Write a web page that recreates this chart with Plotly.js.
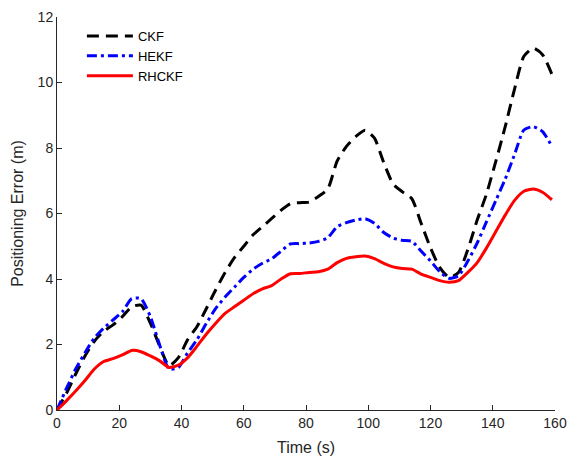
<!DOCTYPE html>
<html>
<head>
<meta charset="utf-8">
<script src="https://cdn.plot.ly/plotly-3.0.1.min.js"></script>
<style>html,body{margin:0;padding:0;background:#fff;}#chart{width:569px;height:456px;}</style>
</head>
<body>
<div id="chart"></div>
<script>
const time = [0,3,6,9,12,15,18,21,24,27,30,33,36,39,42,45,48,51,54,57,60,63,66,69,72,75,78,81,84,87,90,93,96,99,102,105,108,111,114,117,120,123,126,129,132,135,138,141,144,147,150,153,156,159];
const ckf = [0,0.5,1.1,1.65,2.1,2.4,2.6,2.85,3.15,3.2,2.65,1.95,1.35,1.6,2.15,2.55,3.1,3.67,4.2,4.65,5.0,5.35,5.6,5.85,6.1,6.3,6.33,6.35,6.52,6.75,7.6,8.05,8.35,8.54,8.3,7.55,6.9,6.66,6.45,5.7,4.95,4.35,4.05,4.2,4.9,5.8,6.6,7.6,8.65,9.8,10.8,11.05,10.85,10.25];
const hekf = [0,0.65,1.25,1.75,2.2,2.5,2.75,3.0,3.4,3.4,2.85,1.98,1.25,1.3,1.75,2.15,2.65,3.1,3.45,3.75,4.05,4.3,4.48,4.62,4.85,5.07,5.08,5.1,5.15,5.26,5.6,5.72,5.8,5.84,5.7,5.42,5.25,5.18,5.15,4.85,4.55,4.22,4.02,4.1,4.55,5.1,5.75,6.4,7.05,7.8,8.55,8.65,8.5,8.05];
const rhckf = [0,0.28,0.58,0.9,1.25,1.48,1.57,1.68,1.82,1.78,1.65,1.5,1.3,1.37,1.6,1.95,2.32,2.65,2.95,3.15,3.35,3.55,3.7,3.8,4.0,4.16,4.17,4.2,4.22,4.3,4.5,4.63,4.68,4.7,4.62,4.48,4.37,4.32,4.3,4.15,4.05,3.95,3.9,3.95,4.2,4.5,4.95,5.45,5.95,6.4,6.68,6.75,6.65,6.42];
const names = ["CKF","HEKF","RHCKF"];
const xTicks = [0,20,40,60,80,100,120,140,160];
const yTicks = [0,2,4,6,8,10,12];

const traces = [
  {x: time, y: ckf, name: names[0], mode: "lines", line: {color: "#000000", width: 3, dash: "12px,7px", shape: "spline", smoothing: 0.6}},
  {x: time, y: hekf, name: names[1], mode: "lines", line: {color: "#0000FF", width: 3, dash: "10px,4px,3px,4px", shape: "spline", smoothing: 0.6}},
  {x: time, y: rhckf, name: names[2], mode: "lines", line: {color: "#FF0000", width: 3, shape: "spline", smoothing: 0.6}}
];
const axisCommon = {
  showgrid: false, zeroline: false, showline: true, linecolor: "#262626", linewidth: 1,
  ticks: "inside", ticklen: 5, tickcolor: "#262626", tickwidth: 1,
  tickfont: {family: "Liberation Sans, Arial, sans-serif", size: 14, color: "#262626"},
  mirror: false
};
const layout = {
  width: 569, height: 456,
  margin: {l: 57, r: 14, t: 17, b: 46},
  paper_bgcolor: "#ffffff", plot_bgcolor: "#ffffff",
  showlegend: true,
  legend: {x: 0.05, y: 0.99, xanchor: "left", yanchor: "top", bgcolor: "rgba(0,0,0,0)", itemwidth: 46,
           font: {family: "Liberation Sans, Arial, sans-serif", size: 13, color: "#000"}, tracegroupgap: 0},
  xaxis: Object.assign({}, axisCommon, {range: [0, 160], tickvals: xTicks,
    title: {text: "Time (s)", font: {family: "Liberation Sans, Arial, sans-serif", size: 16, color: "#262626"}, standoff: 13}}),
  yaxis: Object.assign({}, axisCommon, {range: [0, 12], tickvals: yTicks,
    title: {text: "Positioning Error (m)", font: {family: "Liberation Sans, Arial, sans-serif", size: 16, color: "#262626"}, standoff: 10}})
};
Plotly.newPlot("chart", traces, layout, {displayModeBar: false, staticPlot: true});
</script>
</body>
</html>
